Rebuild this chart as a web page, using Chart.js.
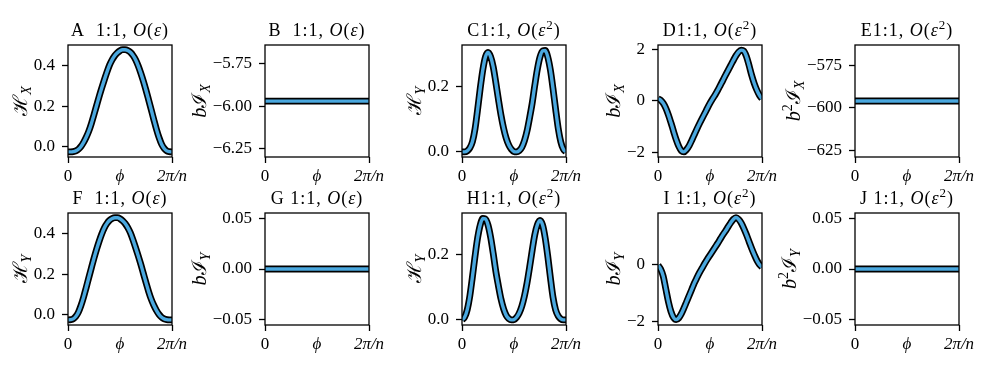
<!DOCTYPE html>
<html>
<head>
<meta charset="utf-8">
<script src="https://cdn.jsdelivr.net/npm/chart.js@4.4.1/dist/chart.umd.min.js"></script>
<style>
  html, body { margin: 0; padding: 0; background: #fff; overflow: hidden; }
  #fig { position: relative; width: 997px; height: 374px; }
  #fig canvas { position: absolute; }
</style>
</head>
<body>
<div id="fig"></div>
<script>
// phase, as a fraction of 2π/n
const phase = [0, 0.025, 0.05, 0.075, 0.1, 0.125, 0.15, 0.175, 0.2, 0.225, 0.25, 0.275, 0.3, 0.325, 0.35, 0.375, 0.4, 0.425, 0.45, 0.475, 0.5,
  0.525, 0.55, 0.575, 0.6, 0.625, 0.65, 0.675, 0.7, 0.725, 0.75, 0.775, 0.8, 0.825, 0.85, 0.875, 0.9, 0.925, 0.95, 0.975, 1];
const flatPhase = [0, 1];

// O(eps) row values
const hxA = [-0.025, -0.025, -0.024, -0.020, -0.012, 0.002, 0.022, 0.047, 0.077, 0.115, 0.158, 0.203, 0.248, 0.290, 0.330, 0.368, 0.402, 0.428, 0.448, 0.462, 0.472,
  0.477, 0.477, 0.473, 0.464, 0.449, 0.428, 0.398, 0.362, 0.322, 0.278, 0.231, 0.183, 0.134, 0.087, 0.046, 0.013, -0.008, -0.020, -0.024, -0.025];
const hyF = [-0.025, -0.024, -0.020, -0.008, 0.013, 0.046, 0.087, 0.134, 0.183, 0.231, 0.278, 0.322, 0.362, 0.398, 0.428, 0.449, 0.464, 0.473, 0.477, 0.477, 0.472,
  0.462, 0.448, 0.428, 0.402, 0.368, 0.330, 0.290, 0.248, 0.203, 0.158, 0.115, 0.077, 0.047, 0.022, 0.002, -0.012, -0.020, -0.024, -0.025, -0.025];
const bjxB = [-5.97, -5.97];
const bjyG = [0, 0];

// O(eps^2) row values
const hyC = [0.000, 0.000, 0.003, 0.012, 0.031, 0.070, 0.130, 0.195, 0.252, 0.292, 0.306, 0.293, 0.262, 0.214, 0.162, 0.113, 0.073, 0.042, 0.021, 0.008, 0.001,
  0.000, 0.004, 0.014, 0.034, 0.064, 0.105, 0.150, 0.205, 0.255, 0.292, 0.311, 0.312, 0.292, 0.252, 0.195, 0.132, 0.073, 0.031, 0.008, 0.000];
const hyH = [0.000, 0.008, 0.031, 0.073, 0.132, 0.195, 0.252, 0.292, 0.312, 0.311, 0.292, 0.255, 0.205, 0.150, 0.105, 0.064, 0.034, 0.014, 0.004, 0.000, 0.001,
  0.008, 0.021, 0.042, 0.073, 0.113, 0.162, 0.214, 0.262, 0.293, 0.306, 0.292, 0.252, 0.195, 0.130, 0.070, 0.031, 0.012, 0.003, 0.000, 0.000];
const bjxD = [0.08, 0.03, -0.09, -0.28, -0.54, -0.85, -1.18, -1.50, -1.76, -1.93, -1.97, -1.88, -1.73, -1.52, -1.30, -1.08, -0.87, -0.67, -0.48, -0.28, -0.09,
  0.08, 0.24, 0.42, 0.61, 0.80, 1.00, 1.19, 1.38, 1.57, 1.75, 1.89, 1.96, 1.93, 1.72, 1.38, 1.00, 0.68, 0.42, 0.22, 0.08];
const bjyI = [-0.02, -0.15, -0.40, -0.85, -1.30, -1.65, -1.86, -1.93, -1.87, -1.72, -1.52, -1.30, -1.08, -0.86, -0.64, -0.45, -0.27, -0.11, 0.05, 0.20, 0.34,
  0.48, 0.62, 0.76, 0.91, 1.06, 1.19, 1.34, 1.48, 1.60, 1.66, 1.60, 1.47, 1.28, 1.06, 0.82, 0.58, 0.36, 0.16, 0.01, -0.08];
const b2jxE = [-596, -596];
const b2jyJ = [0, 0];

// ticks
const xTickPos = [0, 0.5, 1];
const xTickLabels = ['0', 'ϕ', '2π/n'];
const ticksH1 = [0, 0.2, 0.4], labelsH1 = ['0.0', '0.2', '0.4'];
const ticksB = [-6.25, -6.0, -5.75], labelsB = ['−6.25', '−6.00', '−5.75'];
const ticksH2 = [0, 0.2], labelsH2 = ['0.0', '0.2'];
const ticksD = [-2, 0, 2], labelsD = ['−2', '0', '2'];
const ticksE = [-625, -600, -575], labelsE = ['−625', '−600', '−575'];
const ticksZero = [-0.05, 0, 0.05], labelsZero = ['−0.05', '0.00', '0.05'];
const ticksI = [-2, 0], labelsI = ['−2', '0'];

const SERIF = '"Liberation Serif", "DejaVu Serif", serif';
const BLUE = '#4aa8df';
const colLeft = [68, 265, 462, 658, 855];
const rowTop = [45, 213];

const epsT = (letter) => [[letter + '1:1, ', 'r'], ['O', 'i'], ['(', 'r'], ['ε', 'i'], [')', 'r']];
const eps2T = (letter) => [[letter + '1:1, ', 'r'], ['O', 'i'], ['(', 'r'], ['ε', 'i'], ['2', 'sup'], [')', 'r']];
const lblH = (s) => [['ℋ', 'r'], [s, 'sub']];
const lblJ = (s) => [['b', 'i'], ['ℐ', 'r'], [s, 'sub']];
const lblJ2 = (s) => [['b', 'i'], ['2', 'sup'], ['ℐ', 'r'], [s, 'sub']];

const panels = [
  {col: 0, row: 0, title: epsT('A  '), ylabel: lblH('X'), x: phase, y: hxA, min: -0.05, max: 0.5, ticks: ticksH1, labels: labelsH1},
  {col: 1, row: 0, title: epsT('B  '), ylabel: lblJ('X'), x: flatPhase, y: bjxB, min: -6.298, max: -5.641, ticks: ticksB, labels: labelsB},
  {col: 2, row: 0, title: eps2T('C'), ylabel: lblH('Y'), x: phase, y: hyC, min: -0.0157, max: 0.329, ticks: ticksH2, labels: labelsH2},
  {col: 3, row: 0, title: eps2T('D'), ylabel: lblJ('X'), x: phase, y: bjxD, min: -2.17, max: 2.16, ticks: ticksD, labels: labelsD},
  {col: 4, row: 0, title: eps2T('E'), ylabel: lblJ2('X'), x: flatPhase, y: b2jxE, min: -628.8, max: -563.2, ticks: ticksE, labels: labelsE},
  {col: 0, row: 1, title: epsT('F  '), ylabel: lblH('Y'), x: phase, y: hyF, min: -0.05, max: 0.5, ticks: ticksH1, labels: labelsH1},
  {col: 1, row: 1, title: epsT('G '), ylabel: lblJ('Y'), x: flatPhase, y: bjyG, min: -0.055, max: 0.055, ticks: ticksZero, labels: labelsZero},
  {col: 2, row: 1, title: eps2T('H'), ylabel: lblH('Y'), x: phase, y: hyH, min: -0.0157, max: 0.329, ticks: ticksH2, labels: labelsH2},
  {col: 3, row: 1, title: eps2T('I '), ylabel: lblJ('Y'), x: phase, y: bjyI, min: -2.12, max: 1.82, ticks: ticksI, labels: labelsI},
  {col: 4, row: 1, title: eps2T('J '), ylabel: lblJ2('Y'), x: flatPhase, y: b2jyJ, min: -0.055, max: 0.055, ticks: ticksZero, labels: labelsZero}
];

function drawRich(ctx, segs, x, y, size, spacing) {
  const fontFor = s => {
    const small = s === 'sub' || s === 'sup';
    const italic = s === 'i' || s === 'sub';
    return (italic ? 'italic ' : '') + Math.round(small ? size * 0.7 : size) + 'px ' + SERIF;
  };
  ctx.letterSpacing = spacing + 'px';
  let w = 0;
  segs.forEach(([t, s]) => { ctx.font = fontFor(s); w += ctx.measureText(t).width; });
  let cx = x - w / 2;
  ctx.textAlign = 'left';
  ctx.textBaseline = 'alphabetic';
  segs.forEach(([t, s]) => {
    ctx.font = fontFor(s);
    const dy = s === 'sub' ? size * 0.22 : s === 'sup' ? -size * 0.38 : 0;
    ctx.fillText(t, cx, y + dy);
    cx += ctx.measureText(t).width;
  });
  ctx.letterSpacing = '0px';
}

// spines on all four sides, title and y label (with sub/superscripts)
const decor = {
  id: 'decor',
  afterDraw(chart) {
    const p = chart.options.plugins.decor;
    const {ctx, chartArea: a} = chart;
    ctx.save();
    ctx.strokeStyle = '#000';
    ctx.lineWidth = 1.3;
    ctx.strokeRect(a.left, a.top, a.right - a.left, a.bottom - a.top);
    ctx.fillStyle = '#000';
    drawRich(ctx, p.title, (a.left + a.right) / 2, a.top - 9, 18, 1);
    ctx.font = '17px ' + SERIF;
    const maxW = Math.max(...p.labels.map(t => ctx.measureText(t).width));
    ctx.translate(a.left - 13 - maxW - 7, (a.top + a.bottom) / 2);
    ctx.rotate(-Math.PI / 2);
    drawRich(ctx, p.ylabel, 0, 0, 20, 0);
    ctx.restore();
  }
};

const fig = document.getElementById('fig');

function makeChart(p) {
  const canvas = document.createElement('canvas');
  canvas.width = 208;
  canvas.height = 190;
  canvas.style.left = (colLeft[p.col] - 80) + 'px';
  canvas.style.top = (rowTop[p.row] - 45) + 'px';
  fig.appendChild(canvas);
  const pts = p.y.map((v, i) => ({x: p.x[i], y: v}));
  const line = {pointRadius: 0, fill: false, clip: 0, cubicInterpolationMode: 'monotone'};
  new Chart(canvas, {
    type: 'line',
    data: {
      datasets: [
        {data: pts, borderColor: BLUE, borderWidth: 3.4, order: 0, ...line},
        {data: pts, borderColor: '#000', borderWidth: 6.8, order: 1, ...line}
      ]
    },
    options: {
      responsive: false,
      animation: false,
      devicePixelRatio: 1,
      layout: {padding: {left: 0, right: 24, top: 45, bottom: 0}},
      plugins: {
        legend: {display: false},
        tooltip: {enabled: false},
        decor: {title: p.title, ylabel: p.ylabel, labels: p.labels}
      },
      scales: {
        x: {
          type: 'linear', min: 0, max: 1,
          afterBuildTicks: s => { s.ticks = xTickPos.map(v => ({value: v})); },
          afterFit: s => { s.height = 33; s.paddingLeft = 0; s.paddingRight = 0; },
          ticks: {
            callback: (v, i) => xTickLabels[i],
            color: '#000', padding: 3, maxRotation: 0, autoSkip: false,
            font: c => ({family: SERIF, size: 17, style: c.index === 0 ? 'normal' : 'italic'})
          },
          grid: {
            drawOnChartArea: false, tickLength: 6, tickWidth: 1.3,
            tickColor: c => c.index === 1 ? 'rgba(0,0,0,0)' : '#000'
          },
          border: {display: false}
        },
        y: {
          type: 'linear', min: p.min, max: p.max,
          afterBuildTicks: s => { s.ticks = p.ticks.map(v => ({value: v})); },
          afterFit: s => { s.width = 80; s.paddingTop = 0; s.paddingBottom = 0; },
          ticks: {
            callback: (v, i) => p.labels[i],
            color: '#000', padding: 7, autoSkip: false,
            font: {family: SERIF, size: 17}
          },
          grid: {drawOnChartArea: false, tickLength: 6, tickWidth: 1.3, tickColor: '#000'},
          border: {display: false}
        }
      }
    },
    plugins: [decor]
  });
}

panels.forEach(makeChart);
</script>
</body>
</html>
